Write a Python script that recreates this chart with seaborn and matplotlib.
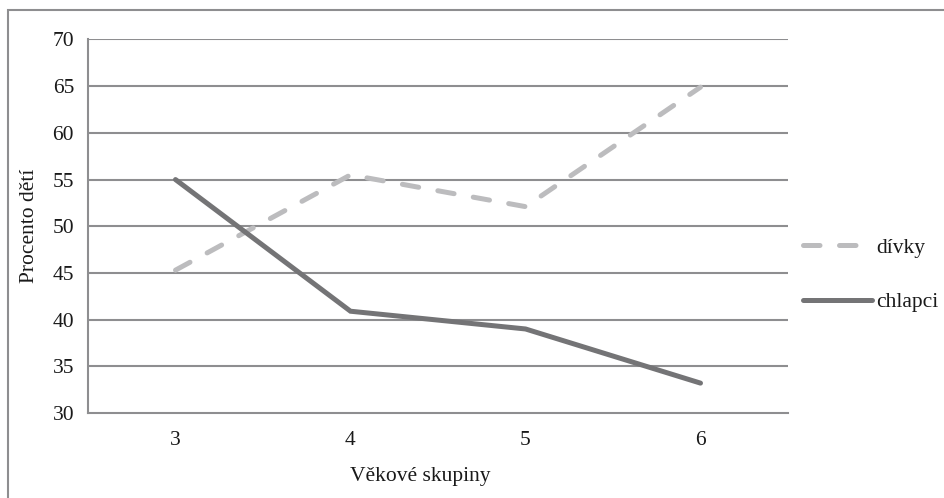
import matplotlib
matplotlib.use("Agg")
import matplotlib.pyplot as plt
import matplotlib.patches as mpatches
from matplotlib.lines import Line2D
import seaborn as sns
import pandas as pd

categories = ["3", "4", "5", "6"]
divky = [45.3, 55.5, 52.1, 64.9]
chlapci = [55.0, 40.9, 39.0, 33.2]
yticks = [30, 35, 40, 45, 50, 55, 60, 65, 70]

sns.set_theme(style="white")
plt.rcParams['font.family'] = ['Liberation Serif', 'DejaVu Serif']

df = pd.DataFrame({
    "x": list(range(len(categories))) * 2,
    "value": divky + chlapci,
    "sex": ["dívky"] * 4 + ["chlapci"] * 4,
})

fig = plt.figure(figsize=(9.45, 4.98), dpi=100)
ax = fig.add_axes([88/945, 1 - 413/498, 700/945, (413 - 39.5)/498])

grid_c = "#8e8e90"
c_div = "#bcbcbe"
c_chl = "#747476"
txt_c = "#1a1a1a"
fs = 15.5

sns.lineplot(data=df, x="x", y="value", hue="sex", style="sex",
             palette={"dívky": c_div, "chlapci": c_chl},
             dashes={"dívky": (3.3, 3.9), "chlapci": ""},
             linewidth=3.6, ax=ax, legend=False, zorder=3)
for ln in ax.get_lines():
    ln.set_dash_capstyle("round")
    ln.set_solid_capstyle("round")
    ln.set_solid_joinstyle("miter")

ax.set_xlim(-0.5, 3.5)
ax.set_ylim(30, 70)
ax.set_yticks(yticks)
ax.set_yticklabels([str(v) for v in yticks], fontsize=fs, color=txt_c)
ax.set_xticks(range(len(categories)))
ax.set_xticklabels(categories, fontsize=fs, color=txt_c)
ax.set_xticks([-0.5, 0.5, 1.5, 2.5, 3.5], minor=True)
ax.tick_params(axis="x", which="major", length=0, pad=13)
ax.tick_params(axis="x", which="minor", length=8, width=1.5, color=grid_c, direction="out")
ax.tick_params(axis="y", length=6, width=1.5, color=grid_c, direction="out", pad=4)
for y in yticks[1:]:
    ax.axhline(y, color=grid_c, lw=1.5, zorder=1)

for s in ["top", "right"]:
    ax.spines[s].set_visible(False)
for s in ["left", "bottom"]:
    ax.spines[s].set_color(grid_c)
    ax.spines[s].set_linewidth(1.5)

ax.set_xlabel("Věkové skupiny", fontsize=fs, color=txt_c, labelpad=12)
ax.xaxis.set_label_coords((420 - 88) / 700, -0.145)
ax.set_ylabel("Procento dětí", fontsize=fs, color=txt_c, labelpad=10)

handles = [
    Line2D([], [], color=c_div, lw=3.6, dashes=(3.3, 3.9), dash_capstyle="round"),
    Line2D([], [], color=c_chl, lw=3.6, solid_capstyle="round"),
]
fig.legend(handles, ["dívky", "chlapci"], loc="center left",
           bbox_to_anchor=(792/945, 1 - 275/498), frameon=False,
           fontsize=fs, handlelength=3.2, handletextpad=0.2,
           labelspacing=1.6, borderpad=0, labelcolor=txt_c)

frame = mpatches.Rectangle((8/945, -0.1), 1.2, 1 - 10/498 + 0.1,
                           transform=fig.transFigure, fill=False,
                           edgecolor=grid_c, lw=1.5)
fig.add_artist(frame)

fig.savefig("out.png", dpi=100)
